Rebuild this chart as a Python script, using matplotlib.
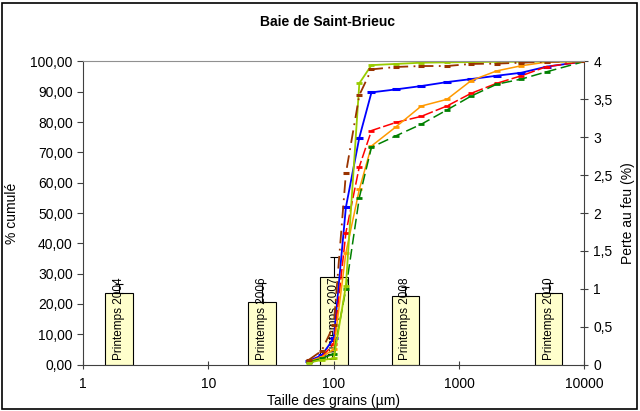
import matplotlib
matplotlib.use("Agg")
import matplotlib.pyplot as plt
from matplotlib.patches import Rectangle
from matplotlib.ticker import FixedLocator, FuncFormatter

plt.rcParams["font.family"] = ["Liberation Sans", "DejaVu Sans"]
plt.rcParams["font.size"] = 10

# grain sizes (µm) and cumulative percentages
sizes = [63, 80, 100, 125, 160, 200, 315, 500, 800, 1250, 2000, 3150, 5000, 10000]
blue = [1.2, 3.0, 8.6, 51.9, 74.9, 89.8, 90.8, 91.9, 93.2, 94.2, 95.3, 96.3, 98.3, 100]
red = [1.0, 2.5, 6.8, 43.5, 65.3, 77.2, 79.9, 81.9, 85.3, 89.5, 92.8, 95.3, 98.3, 100]
orange = [0.9, 2.5, 5.0, 36.9, 57.8, 72.1, 78.5, 85.3, 87.5, 93.7, 96.9, 98.6, 99.8, 100]
green = [0.8, 2.0, 3.5, 25.0, 55.1, 71.7, 75.5, 79.3, 84.0, 88.6, 92.5, 94.2, 96.6, 100]
yellowgreen = [0.6, 1.5, 2.0, 26.0, 92.8, 98.8, 99.2, 99.6, 99.7, 99.8, 99.9, 99.9, 100, 100]
brown = [1.5, 4.5, 13.0, 63.1, 88.9, 97.4, 98.2, 98.5, 98.5, 99.2, 99.3, 99.6, 99.9, 100]

# perte au feu (%) bars, on a 7-slot category axis
bar_slots = [0, 2, 3, 4, 6]
bar_labels = ["Printemps 2004", "Printemps 2006", "Printemps 2007", "Printemps 2008", "Printemps 2010"]
bar_values = [0.95, 0.83, 1.15, 0.90, 0.94]
bar_errors = [0.11, 0.25, 0.27, 0.12, 0.13]
n_slots = 7

fig = plt.figure(figsize=(6.4, 4.11), dpi=100)
ax = fig.add_axes([0.130, 0.1131, 0.783, 0.7373])
ax2 = ax.twinx()
ax3 = ax2.twiny()

# bars
ax3.set_xlim(0, n_slots)
ax2.set_ylim(0, 4)
ax3.bar([s + 0.5 for s in bar_slots], bar_values, width=0.385, color="#FFFFCC",
        edgecolor="black", linewidth=0.8,
        yerr=[[0] * len(bar_errors), bar_errors], capsize=3,
        error_kw=dict(elinewidth=0.8, capthick=0.8, ecolor="black"))
for s, lab in zip(bar_slots, bar_labels):
    ax3.text(s + 0.5, 0.06, lab, rotation=90, ha="center", va="bottom", fontsize=8.5)
ax3.set_xticks([])
for sp in ax3.spines.values():
    sp.set_visible(False)
ax3.patch.set_visible(False)

# curves
ax.set_zorder(ax3.get_zorder() + 1)
ax.patch.set_visible(False)
ax.plot(sizes, blue, color="#0000FF", lw=1.3, marker="_", ms=6, mew=2.2)
ax.plot(sizes, red, color="#FF0000", lw=1.1, ls=(0, (7, 2)), marker="_", ms=4, mew=2)
ax.plot(sizes, orange, color="#FF9900", lw=1.1, marker="_", ms=4, mew=2)
ax.plot(sizes, green, color="#008000", lw=1.1, ls=(0, (7, 3)), marker="_", ms=4, mew=2)
ax.plot(sizes, yellowgreen, color="#99CC00", lw=1.3, marker="_", ms=4, mew=2)
ax.plot(sizes, brown, color="#993300", lw=1.3, ls=(0, (7, 3, 1, 3)), marker="_", ms=5, mew=2.2)

ax.set_xscale("log")
ax.set_xlim(1, 10000)
ax.set_ylim(0, 100)
ax.xaxis.set_major_locator(FixedLocator([1, 10, 100, 1000, 10000]))
ax.xaxis.set_minor_locator(FixedLocator([]))
ax.xaxis.set_major_formatter(FuncFormatter(lambda v, p: f"{v:.0f}"))
ax.set_yticks(range(0, 101, 10))
ax.yaxis.set_major_formatter(FuncFormatter(lambda v, p: f"{v:.2f}".replace(".", ",")))
ax.tick_params(axis="y", direction="out", length=4, color="#404040")
ax.tick_params(axis="x", direction="inout", length=6, color="#404040", pad=6)

ax2.set_yticks([0, 0.5, 1, 1.5, 2, 2.5, 3, 3.5, 4])
ax2.yaxis.set_major_formatter(FuncFormatter(lambda v, p: f"{v:g}".replace(".", ",")))
ax2.tick_params(axis="y", direction="inout", length=6, color="#404040")

for sp in ("left", "bottom"):
    ax.spines[sp].set_color("#404040")
ax.spines["top"].set_color("#909090")
ax.spines["right"].set_visible(False)
ax2.spines["right"].set_color("#404040")
for sp in ("left", "top", "bottom"):
    ax2.spines[sp].set_visible(False)
ax2.patch.set_visible(False)

ax.set_xlabel("Taille des grains (µm)", labelpad=2)
ax.set_ylabel("% cumulé", labelpad=8)
ax2.set_ylabel("Perte au feu (%)", labelpad=6)
fig.text(328 / 640, 1 - 22 / 411, "Baie de Saint-Brieuc", ha="center", va="center",
         fontsize=10, fontweight="bold")

fig.patches.append(Rectangle((2 / 640, 2 / 411), 1 - 5 / 640, 1 - 5 / 411,
                             transform=fig.transFigure, fill=False,
                             edgecolor="black", linewidth=1.2))

fig.savefig("out.png", dpi=100)
